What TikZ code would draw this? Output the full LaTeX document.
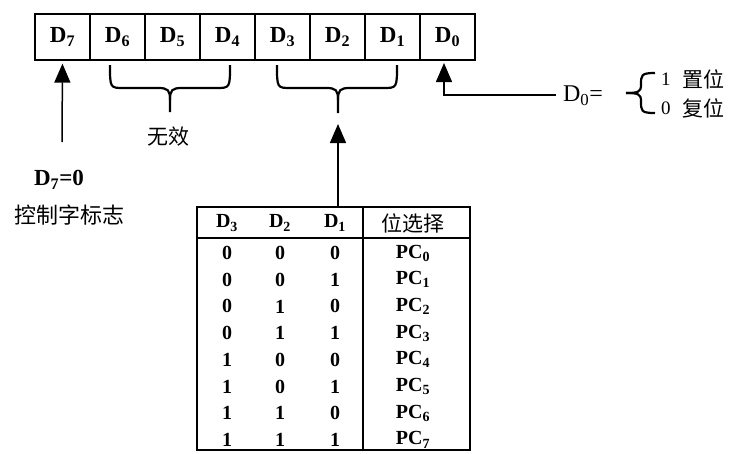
\documentclass[tikz,border=0pt]{standalone}
\usepackage{fontspec}
\setmainfont{Liberation Serif}
\newfontfamily\cjk{Noto Sans CJK SC}
\usetikzlibrary{arrows.meta}
\begin{document}
\begin{tikzpicture}[x=1pt,y=-1pt,
  cell/.style={draw,line width=1.3pt,minimum width=55pt,minimum height=46pt,inner sep=0pt,font=\fontsize{23}{25}\selectfont\bfseries},
  arr/.style={line width=1.5pt,-{Triangle[length=19pt,width=16pt]}},
  brc/.style={line width=2.2pt},
  lbl/.style={inner sep=0pt,font=\fontsize{23}{25}\selectfont\bfseries},
  cn/.style={inner sep=0pt,font=\fontsize{21}{24}\selectfont\cjk},
  tb/.style={inner sep=0pt,font=\fontsize{20}{22}\selectfont\bfseries},
  rg/.style={inner sep=0pt,font=\fontsize{19}{21}\selectfont},
  tline/.style={line width=1.2pt}
]
\useasboundingbox (0,0) rectangle (729,453);

% register cells
\node[cell] (d7) at (62.5,37) {D\textsubscript{7}};
\node[cell] (d6) at (117.5,37) {D\textsubscript{6}};
\node[cell] (d5) at (172.5,37) {D\textsubscript{5}};
\node[cell] (d4) at (227.5,37) {D\textsubscript{4}};
\node[cell] (d3) at (282.5,37) {D\textsubscript{3}};
\node[cell] (d2) at (337.5,37) {D\textsubscript{2}};
\node[cell] (d1) at (392.5,37) {D\textsubscript{1}};
\node[cell] (d0) at (447.5,37) {D\textsubscript{0}};

% D7 arrow and labels
\coordinate (d7tail) at (62,142);
\draw[arr,shorten >=3pt] (d7tail) -- (d7.south);
\node[lbl] (d7eq) at (59,180) {D\textsubscript{7}=0};
\node[cn,font=\fontsize{22}{24}\selectfont\cjk] (flag) at (70,215) {控制字标志};

% brace over D6..D4
\draw[brc] (110,65) .. controls (110,88) and (110,88) .. (124,88) -- (158,88) .. controls (168,88) and (170,90) .. (170,100) -- (170,112);
\draw[brc] (230,65) .. controls (230,88) and (230,88) .. (216,88) -- (182,88) .. controls (172,88) and (170,90) .. (170,100);
\node[cn] (wx) at (168,137) {无效};

% brace over D3..D1
\draw[brc] (277,65) .. controls (277,88) and (277,88) .. (291,88) -- (326,88) .. controls (336,88) and (338,90) .. (338,100) -- (338,113);
\draw[brc] (397,65) .. controls (397,88) and (397,88) .. (383,88) -- (350,88) .. controls (340,88) and (338,90) .. (338,100);

% D0 arrow and definition
\node[inner sep=0pt,font=\fontsize{24}{26}\selectfont] (d0eq) at (583,96) {D\textsubscript{0}=};
\coordinate (d0l) at (556,95);
\coordinate (d0up) at (444,63);
\draw[arr] (d0l) -| (d0up);
\draw[brc] (655,73) .. controls (641,73) and (641,75) .. (641,85) .. controls (641,92) and (638,93) .. (626,93);
\draw[brc] (655,113) .. controls (641,113) and (641,111) .. (641,101) .. controls (641,94) and (638,93) .. (626,93);
\node[rg,anchor=west] (set1) at (661,79) {1};
\node[cn,anchor=west] (set) at (682,79) {置位};
\node[rg,anchor=west] (rst0) at (661,108) {0};
\node[cn,anchor=west] (rst) at (682,108) {复位};

% table
\node[draw,tline,minimum width=273pt,minimum height=243pt,inner sep=0pt] (tab) at (333.5,328.5) {};
\draw[tline] (197,238) -- (470,238);
\draw[tline] (363,207) -- (363,450);
\coordinate (tabtop) at (338,206);
\draw[arr] (tabtop) -- (338,124);

\node[tb] (h3) at (227,223) {D\textsubscript{3}};
\node[tb] (h2) at (280,223) {D\textsubscript{2}};
\node[tb] (h1) at (335,223) {D\textsubscript{1}};
\node[cn] (hs) at (413,223) {位选择};

\foreach \i/\a/\b/\c in {0/0/0/0,1/0/0/1,2/0/1/0,3/0/1/1,4/1/0/0,5/1/0/1,6/1/1/0,7/1/1/1}{
  \pgfmathsetmacro{\yy}{253+26.7*\i}
  \node[tb] (ra\i) at (227,\yy) {\a};
  \node[tb] (rb\i) at (280,\yy) {\b};
  \node[tb] (rc\i) at (335,\yy) {\c};
  \node[tb] (pc\i) at (413,\yy) {PC\textsubscript{\i}};
}
\end{tikzpicture}
\end{document}
